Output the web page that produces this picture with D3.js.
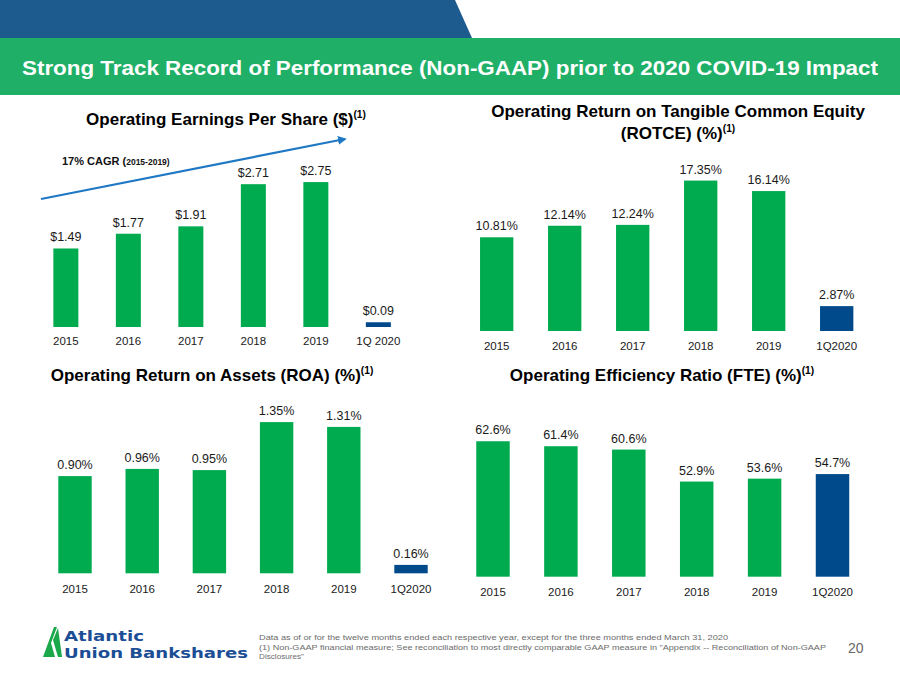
<!DOCTYPE html>
<html>
<head>
<meta charset="utf-8">
<script src="https://cdn.jsdelivr.net/npm/d3@7"></script>
<style>
  html, body { margin: 0; padding: 0; background: #fff; }
  svg { display: block; font-family: "Liberation Sans", Arial, sans-serif; }
</style>
</head>
<body>
<svg id="chart" width="900" height="675"></svg>
<script>
// ---------------- DATA ----------------
const epsCategories   = ["2015", "2016", "2017", "2018", "2019", "1Q 2020"];
const epsValues       = [1.49, 1.77, 1.91, 2.71, 2.75, 0.09];
const epsLabels       = ["$1.49", "$1.77", "$1.91", "$2.71", "$2.75", "$0.09"];

const rotceCategories = ["2015", "2016", "2017", "2018", "2019", "1Q2020"];
const rotceValues     = [10.81, 12.14, 12.24, 17.35, 16.14, 2.87];
const rotceLabels     = ["10.81%", "12.14%", "12.24%", "17.35%", "16.14%", "2.87%"];

const roaCategories   = ["2015", "2016", "2017", "2018", "2019", "1Q2020"];
const roaValues       = [0.90, 0.96, 0.95, 1.35, 1.31, 0.16];
const roaLabels       = ["0.90%", "0.96%", "0.95%", "1.35%", "1.31%", "0.16%"];

const effCategories   = ["2015", "2016", "2017", "2018", "2019", "1Q2020"];
const effValues       = [62.6, 61.4, 60.6, 52.9, 53.6, 54.7];
const effLabels       = ["62.6%", "61.4%", "60.6%", "52.9%", "53.6%", "54.7%"];

const GREEN = "#00AB4F";
const BLUE  = "#004A8C";

const svg = d3.select("#chart");

// ---------------- HEADER ----------------
svg.append("path")
  .attr("d", "M0,0 L455,0 L472,38 L0,38 Z")
  .attr("fill", "#1D5B8F");
svg.append("rect").attr("x", 0).attr("y", 38).attr("width", 900).attr("height", 57)
  .attr("fill", "#1FAF67");
svg.append("text")
  .attr("x", 22).attr("y", 75)
  .attr("fill", "#fff")
  .style("font-family", "'Liberation Sans Narrow', 'Liberation Sans', Arial, sans-serif")
  .style("font-weight", "bold")
  .style("font-size", "21px")
  .attr("textLength", 856)
  .attr("lengthAdjust", "spacingAndGlyphs")
  .text("Strong Track Record of Performance (Non-GAAP) prior to 2020 COVID-19 Impact");

// ---------------- CHART HELPER ----------------
function drawChart(cfg) {
  const g = svg.append("g");
  const x = d3.scaleBand()
    .domain(cfg.categories)
    .range(cfg.xRange)
    .paddingInner(cfg.padding)
    .paddingOuter(cfg.padding / 2);
  const y = d3.scaleLinear()
    .domain(cfg.yDomain)
    .range(cfg.yRange);

  const data = cfg.categories.map((c, i) => ({ c, v: cfg.values[i], l: cfg.labels[i], last: i === cfg.categories.length - 1 }));

  g.selectAll("rect.bar").data(data).join("rect")
    .attr("class", "bar")
    .attr("x", d => x(d.c))
    .attr("width", x.bandwidth())
    .attr("y", d => y(d.v))
    .attr("height", d => y(cfg.yDomain[0]) - y(d.v))
    .attr("fill", d => d.last ? BLUE : GREEN);

  g.selectAll("text.val").data(data).join("text")
    .attr("class", "val")
    .attr("x", d => x(d.c) + x.bandwidth() / 2)
    .attr("y", d => y(d.v) - 7)
    .attr("text-anchor", "middle")
    .style("font-size", "12.5px")
    .attr("fill", "#1a1a1a")
    .text(d => d.l);

  // category axis
  const axis = d3.axisBottom(x).tickSize(0).tickPadding(0);
  const ag = g.append("g")
    .attr("transform", `translate(0,${cfg.labelY})`)
    .call(axis);
  ag.select(".domain").remove();
  ag.selectAll("text")
    .attr("dy", null)
    .attr("y", 0)
    .style("font-size", "11.5px")
    .style("font-family", "'Liberation Sans', Arial, sans-serif")
    .attr("fill", "#1a1a1a");
  return { x, y };
}

function drawTitle(lines, cx, ys, size) {
  lines.forEach((ln, i) => {
    const t = svg.append("text")
      .attr("x", cx).attr("y", ys[i])
      .attr("text-anchor", "middle")
      .style("font-weight", "bold")
      .style("font-size", size + "px")
      .attr("fill", "#000");
    t.append("tspan").text(ln.text);
    if (ln.sup) {
      t.append("tspan")
        .attr("dy", -7)
        .style("font-size", (size * 0.6) + "px")
        .text("(1)");
    }
  });
}

// ---------------- EPS ----------------
drawTitle([{ text: "Operating Earnings Per Share ($)", sup: true }], 226, [125], 17);
drawChart({
  categories: epsCategories, values: epsValues, labels: epsLabels,
  xRange: [34.6, 409.6], padding: 0.6,
  yDomain: [0, 3], yRange: [327, 168.9],
  labelY: 345
});
// CAGR arrow
svg.append("defs").append("marker")
  .attr("id", "arrowhead")
  .attr("viewBox", "0 0 10 10")
  .attr("refX", 8).attr("refY", 5)
  .attr("markerWidth", 4).attr("markerHeight", 4)
  .attr("orient", "auto")
  .append("path").attr("d", "M0,0 L10,5 L0,10 Z").attr("fill", "#1F78C4");
svg.append("line")
  .attr("x1", 41).attr("y1", 199).attr("x2", 345).attr("y2", 139)
  .attr("stroke", "#1F78C4").attr("stroke-width", 2.2)
  .attr("marker-end", "url(#arrowhead)");
const cagr = svg.append("text")
  .attr("x", 62).attr("y", 165)
  .style("font-weight", "bold")
  .style("font-size", "11px")
  .attr("fill", "#111");
cagr.append("tspan").text("17% CAGR (");
cagr.append("tspan").style("font-size", "8.5px").text("2015-2019)");

// ---------------- ROTCE ----------------
drawTitle([{ text: "Operating Return on Tangible Common Equity" }, { text: "(ROTCE) (%)", sup: true }], 678, [117, 139], 17);
drawChart({
  categories: rotceCategories, values: rotceValues, labels: rotceLabels,
  xRange: [462.7, 870.7], padding: 0.51,
  yDomain: [0, 20], yRange: [331, 157.6],
  labelY: 350
});

// ---------------- ROA ----------------
drawTitle([{ text: "Operating Return on Assets (ROA) (%)", sup: true }], 212, [381], 17);
drawChart({
  categories: roaCategories, values: roaValues, labels: roaLabels,
  xRange: [41.4, 444.6], padding: 0.503,
  yDomain: [0.09, 1.5], yRange: [573.3, 404.1],
  labelY: 593
});

// ---------------- EFFICIENCY ----------------
drawTitle([{ text: "Operating Efficiency Ratio (FTE) (%)", sup: true }], 662, [381], 17);
drawChart({
  categories: effCategories, values: effValues, labels: effLabels,
  xRange: [459.05, 866.45], padding: 0.507,
  yDomain: [30, 70], yRange: [576.7, 410.5],
  labelY: 596
});

// ---------------- FOOTER ----------------
const logo = svg.append("g");
logo.append("path")
  .attr("d", "M43,657 L54,627 L57,627 L51,643 L55,657 Z")
  .attr("fill", "#1BA84A");
logo.append("path")
  .attr("d", "M53,640 L58,628 L62,657 L58,657 Z")
  .attr("fill", "#1BA84A");
logo.append("text")
  .attr("x", 64).attr("y", 641)
  .style("font-family", "'DejaVu Sans', sans-serif")
  .style("font-weight", "bold").style("font-size", "14px")
  .attr("fill", "#1C4E96")
  .attr("textLength", 80).attr("lengthAdjust", "spacingAndGlyphs")
  .text("Atlantic");
logo.append("text")
  .attr("x", 64).attr("y", 658)
  .style("font-family", "'DejaVu Sans', sans-serif")
  .style("font-weight", "bold").style("font-size", "14px")
  .attr("fill", "#1C4E96")
  .attr("textLength", 184).attr("lengthAdjust", "spacingAndGlyphs")
  .text("Union Bankshares");

const notes = [
  { t: "Data as of or for the twelve months ended each respective year, except for the three months ended March 31, 2020", w: 469 },
  { t: "(1) Non-GAAP financial measure; See reconciliation to most directly comparable GAAP measure in \"Appendix -- Reconciliation of Non-GAAP", w: 567 },
  { t: "Disclosures\"", w: 45 }
];
notes.forEach((n, i) => {
  svg.append("text")
    .attr("x", 259).attr("y", 640 + i * 9.5)
    .style("font-size", "8px")
    .attr("fill", "#6b6b6b")
    .attr("textLength", n.w).attr("lengthAdjust", "spacingAndGlyphs")
    .text(n.t);
});
svg.append("text")
  .attr("x", 848).attr("y", 653)
  .style("font-size", "14px")
  .attr("fill", "#666")
  .text("20");
</script>
</body>
</html>
